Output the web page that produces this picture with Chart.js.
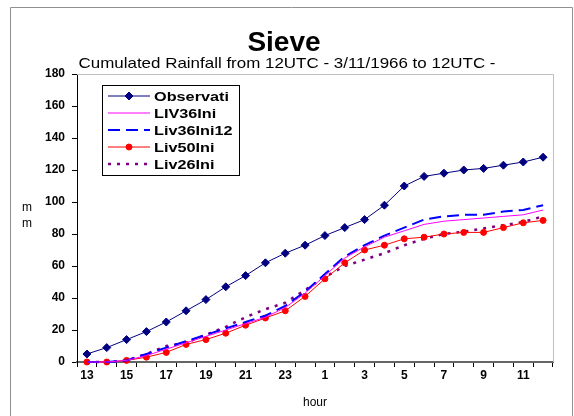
<!DOCTYPE html>
<html>
<head>
<meta charset="utf-8">
<title>Sieve</title>
<script src="https://cdn.jsdelivr.net/npm/chart.js@4.4.0/dist/chart.umd.min.js"></script>
<style>
html,body{margin:0;padding:0;background:#fff;}
canvas{display:block;}
</style>
</head>
<body>
<canvas id="rainChart" width="574" height="416"></canvas>
<script>
// hours from 12UTC to 12UTC of the next day
const hours=['13','14','15','16','17','18','19','20','21','22','23','0','1','2','3','4','5','6','7','8','9','10','11','12'];
const yMin=0, yMax=180, yStep=20;

// cumulated rainfall (mm)
const observati=[5,9,14,19,25,32,39,47,54,62,68,73,79,84,89,98,110,116,118,120,121,123,125,128];
const liv36Ini=[0,0,1,4,8,12,16,20,24,28,34,43,54,65,72,78,82,86,88,89,90,91,92,95];
const liv36Ini12=[0,0,1,5,9,13,17,21,25,29,35,44,55,66,73,79,84,89,91,92,92,94,95,98];
const liv50Ini=[0,0,1,3,6,11,14,18,23,27.5,32,41,52,62,70,73,77,78,80,81,81,84,87,88.5];
const liv26Ini=[0,0,1,5,10,12,17,22,28,33,37,45,53,60,64,68,73,77,80,81.5,83.5,85.5,87.5,91];

const FONT='"Liberation Sans", Arial, sans-serif';
Chart.defaults.font.family=FONT;
Chart.defaults.color='#000';

// frame, titles, axis title and legend box
const decor={
    id:'decor',
    beforeDatasetsDraw(chart){
        const a=chart.chartArea, ctx=chart.ctx;
        ctx.save();
        ctx.strokeStyle='#c0c0c0';
        ctx.lineWidth=1;
        ctx.beginPath();
        ctx.moveTo(a.left,a.top+0.5);
        ctx.lineTo(a.right+0.5,a.top+0.5);
        ctx.lineTo(a.right+0.5,a.bottom);
        ctx.stroke();
        ctx.restore();
    },
    afterDraw(chart){
        const ctx=chart.ctx;
        ctx.save();
        // outer border
        ctx.strokeStyle='#909090';
        ctx.lineWidth=1;
        ctx.beginPath();
        ctx.moveTo(10.5,416);
        ctx.lineTo(10.5,7.5);
        ctx.lineTo(572.5,7.5);
        ctx.lineTo(572.5,416);
        ctx.stroke();

        // titles
        ctx.fillStyle='#000';
        ctx.textAlign='center';
        ctx.textBaseline='alphabetic';
        ctx.font='bold 28px '+FONT;
        ctx.fillText('Sieve',284,51);
        ctx.save();
        ctx.font='15px '+FONT;
        ctx.translate(287,68);
        ctx.scale(1.13,1);
        ctx.fillText('Cumulated Rainfall from 12UTC - 3/11/1966 to 12UTC -',0,0);
        ctx.restore();

        // y axis title, stacked letters
        ctx.font='12px '+FONT;
        ctx.fillText('m',27,211);
        ctx.fillText('m',27,227);

        // legend
        const bx=102, by=85, bw=137, bh=90;
        ctx.fillStyle='#fff';
        ctx.fillRect(bx,by,bw,bh);
        ctx.strokeStyle='#000';
        ctx.lineWidth=1;
        ctx.strokeRect(bx+0.5,by+0.5,bw,bh);
        chart.data.datasets.forEach((ds,i)=>{
            const y=96+i*17;
            ctx.save();
            ctx.strokeStyle=ds.borderColor;
            ctx.lineWidth=ds.borderWidth;
            ctx.setLineDash(ds.borderDash||[]);
            ctx.beginPath();
            ctx.moveTo(108,y);
            ctx.lineTo(150,y);
            ctx.stroke();
            ctx.setLineDash([]);
            if(ds.pointRadius>0){
                ctx.fillStyle=ds.pointBackgroundColor;
                ctx.strokeStyle=ds.borderColor;
                Chart.helpers.drawPoint(ctx,{pointStyle:ds.pointStyle,radius:ds.pointRadius,borderWidth:1,rotation:0},129,y);
            }
            ctx.fillStyle='#000';
            ctx.textAlign='left';
            ctx.textBaseline='middle';
            ctx.font='bold 13px '+FONT;
            ctx.translate(154,y+1);
            ctx.scale(1.25,1);
            ctx.fillText(ds.label,0,0);
            ctx.restore();
        });
        ctx.restore();
    }
};

const ctx=document.getElementById('rainChart').getContext('2d');
const rainChart=new Chart(ctx,{
    type:'line',
    data:{
        labels:hours,
        datasets:[
            {label:'Observati',data:observati,borderColor:'#000080',backgroundColor:'#000080',pointBackgroundColor:'#000080',borderWidth:1,pointStyle:'rectRot',pointRadius:4,pointBorderWidth:1},
            {label:'LIV36Ini',data:liv36Ini,borderColor:'#ff00ff',borderWidth:1,pointRadius:0},
            {label:'Liv36Ini12',data:liv36Ini12,borderColor:'#0000ff',borderWidth:2,borderDash:[12,6],pointRadius:0},
            {label:'Liv50Ini',data:liv50Ini,borderColor:'#ff0000',backgroundColor:'#ff0000',pointBackgroundColor:'#ff0000',borderWidth:1,pointStyle:'circle',pointRadius:3,pointBorderWidth:1},
            {label:'Liv26Ini',data:liv26Ini,borderColor:'#800080',borderWidth:2.5,borderDash:[3,6],pointRadius:0}
        ]
    },
    options:{
        responsive:false,
        animation:false,
        layout:{padding:{top:74,right:21,left:0,bottom:0}},
        elements:{line:{tension:0,fill:false}},
        datasets:{line:{clip:false}},
        plugins:{legend:{display:false},tooltip:{enabled:false},title:{display:false}},
        scales:{
            x:{
                type:'category',
                offset:true,
                grid:{display:true,drawOnChartArea:false,drawTicks:true,tickLength:5,color:'#000',offset:true},
                border:{color:'#666',width:2},
                ticks:{autoSkip:false,maxRotation:0,color:'#000',padding:1,font:{size:12,weight:'bold'},
                    callback:(v,i)=>i%2===0?hours[i]:''},
                title:{display:true,text:'hour',color:'#000',font:{size:12},padding:{top:0,bottom:6}},
                afterFit:s=>{s.height=54;}
            },
            y:{
                min:yMin,max:yMax,
                ticks:{stepSize:yStep,color:'#000',padding:7,font:{size:12,weight:'bold'}},
                grid:{display:true,drawOnChartArea:false,tickLength:5,color:'#000'},
                border:{color:'#000',width:1},
                afterFit:s=>{s.width=77;}
            }
        }
    },
    plugins:[decor]
});
</script>
</body>
</html>
